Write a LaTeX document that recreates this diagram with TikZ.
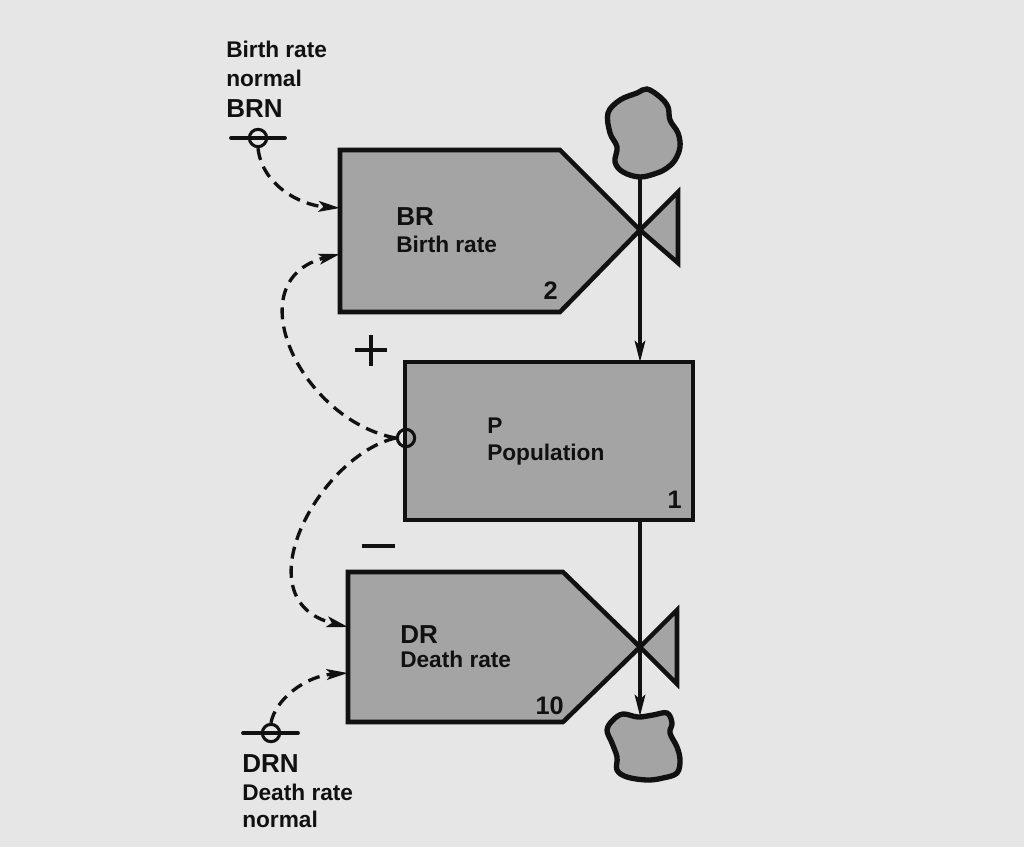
\documentclass[tikz,border=0pt]{standalone}
\usepackage{fontspec}
\setmainfont{Liberation Sans}
\usetikzlibrary{arrows.meta}
\definecolor{bg}{HTML}{E6E6E6}
\definecolor{boxfill}{HTML}{A4A4A4}
\definecolor{ink}{HTML}{111111}
\begin{document}
\begin{tikzpicture}[x=0.75pt,y=-0.75pt,
  boxline/.style={draw=ink,line width=3.4pt,line join=miter,fill=boxfill},
  flowline/.style={draw=ink,line width=2.3pt},
  cloudline/.style={draw=ink,line width=4pt,fill=boxfill},
  infolink/.style={draw=ink,line width=2.5pt,dash pattern=on 9pt off 5.5pt},
  tip/.style={-{Stealth[length=16pt,width=8pt,inset=3.5pt]}},
  txt/.style={inner sep=0pt,anchor=base west,text=ink,font=\bfseries\fontsize{17}{20}\selectfont},
  big/.style={txt,font=\bfseries\fontsize{19.5}{22}\selectfont},
  num/.style={inner sep=0pt,anchor=base east,text=ink,font=\bfseries\fontsize{19}{22}\selectfont},
  aux/.style={circle,draw=ink,line width=2.3pt,minimum size=13pt,inner sep=0pt},
  sign/.style={draw=ink,line width=2.8pt}]
\fill[bg] (0,0) rectangle (1024,847);
\useasboundingbox (0,0) rectangle (1024,847);

% --- coordinates of the boxes
\coordinate (brA) at (340,150);
\coordinate (brB) at (560,150);
\coordinate (brV) at (640,230);
\coordinate (brC) at (560,312);
\coordinate (brD) at (340,312);
\coordinate (brT1) at (678,192);
\coordinate (brT2) at (678,263);

\coordinate (drA) at (348,572);
\coordinate (drB) at (563,572);
\coordinate (drV) at (640,647);
\coordinate (drC) at (563,722);
\coordinate (drD) at (348,722);
\coordinate (drT1) at (677,610);
\coordinate (drT2) at (677,684);

% --- rate boxes with valves
\draw[boxline] (brA) -- (brB) -- (brV) -- (brC) -- (brD) -- cycle;
\draw[boxline] (brV) -- (brT1) -- (brT2) -- cycle;
\draw[boxline] (drA) -- (drB) -- (drV) -- (drC) -- (drD) -- cycle;
\draw[boxline] (drV) -- (drT1) -- (drT2) -- cycle;

% --- level box
\draw[boxline] (405,362) rectangle (693,520);
\coordinate (ptop) at (640,362);
\coordinate (pbot) at (640,520);

% --- clouds
\draw[cloudline] plot[smooth cycle,tension=0.6] coordinates {(647,89) (660,97) (668,107) (670,120) (678,133) (680,147) (675,160) (667,168) (657,173) (640,177) (623,172) (615,162) (617,147) (610,133) (608,113) (620,100) (637,93)};
\coordinate (srcbot) at (640,177);
\draw[cloudline] plot[smooth cycle,tension=0.6] coordinates {(613,720) (623,714) (638,717) (653,715) (667,713) (672,723) (670,733) (677,747) (680,760) (677,773) (663,778) (647,780) (627,777) (617,770) (617,757) (612,743) (607,730)};
\coordinate (sinktop) at (640,716);

% --- flows
\draw[flowline,tip] (srcbot) -- (ptop);
\draw[flowline,tip] (pbot) -- (sinktop);

% --- auxiliaries
\node[aux] (brn) at (258,138) {};
\draw[ink,line width=2.8pt,line cap=round] (231,138) -- (285,138);
\node[aux] (drn) at (271,733) {};
\draw[ink,line width=2.8pt,line cap=round] (243,733) -- (298,733);
\node[aux] (pc) at (406,438) {};

% --- information links
\coordinate (brin1) at (340,208);
\coordinate (brin2) at (340,254);
\coordinate (drin1) at (348,627);
\coordinate (drin2) at (348,673);
\draw[infolink,tip] (brn.south) .. controls (262,185) and (300,205) .. (brin1);
\draw[infolink,tip] (pc.west) .. controls (300,420) and (235,280) .. (brin2);
\draw[infolink,tip] (pc.west) .. controls (320,455) and (240,600) .. (drin1);
\draw[infolink,tip] (drn.north) .. controls (275,700) and (305,676) .. (drin2);

% --- signs
\draw[sign] (355,350) -- (387,350);
\draw[sign] (371,335) -- (371,366);
\draw[sign] (362,546) -- (395,546);

% --- texts
\node[txt] (brn1) at (226,57) {Birth rate};
\node[txt] (brn2) at (226,86) {normal};
\node[big] (brn3) at (226,117) {BRN};

\node[big] (br1) at (396,225) {BR};
\node[txt] (br2) at (396,252) {Birth rate};
\node[num] (br3) at (558,299) {2};

\node[txt] (p1) at (487,433) {P};
\node[txt] (p2) at (487,460) {Population};
\node[num] (p3) at (682,508) {1};

\node[big] (dr1) at (400,643) {DR};
\node[txt] (dr2) at (400,667) {Death rate};
\node[num] (dr3) at (564,714) {10};

\node[big] (drn1) at (242,772) {DRN};
\node[txt] (drn2) at (242,800) {Death rate};
\node[txt] (drn3) at (242,827) {normal};
\end{tikzpicture}
\end{document}
